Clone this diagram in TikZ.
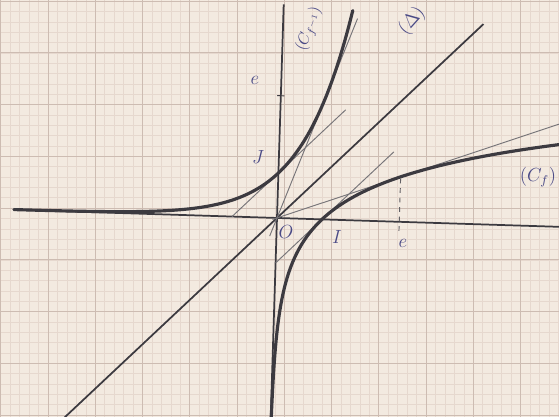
\documentclass[tikz,border=0pt]{standalone}
\usepackage{tikz}
\usetikzlibrary{calc}
\definecolor{paper}{HTML}{F3EAE0}
\definecolor{gridminor}{HTML}{E6D8CE}
\definecolor{gridmajor}{HTML}{CDBCB2}
\definecolor{pencil}{HTML}{3C3A40}
\definecolor{ink}{HTML}{4A4A86}
\newcommand{\econst}{2.71828}
\tikzset{
	curveline/.style={
			pencil,
			line width=2pt,
			line cap=round
		},
	axisline/.style={
			pencil,
			line width=1.1pt
		},
	tangentline/.style={
			pencil!70,
			line width=0.6pt
		},
	inklabel/.style={
			text=ink,
			font=\large,
			inner sep=1pt
		}
}

\begin{document}
\begin{tikzpicture}

  \useasboundingbox (-6.156,-4.422) rectangle (6.267,4.844);
  \fill[paper] (-6.156,-4.422) rectangle (6.267,4.844);
  \clip (-6.156,-4.422) rectangle (6.267,4.844);

  % graph paper
  \draw[gridminor, line width=0.3pt, xstep=0.21, ystep=0.23, shift={(0.16,0.22)}] (-6.6,-5) grid (6.6,5);
  \draw[gridmajor, line width=0.5pt, xstep=1.05, ystep=1.15, shift={(0.16,0.22)}] (-6.6,-5) grid (6.6,5);

  \begin{scope}[rotate=-1.8]
    \coordinate (O) at (0,0);
    \coordinate (I) at (1,0);
    \coordinate (J) at (0,1);
    \coordinate (E) at (\econst,0);
    \coordinate (Ef) at (\econst,1);

    % axes and (Delta)
    \draw[axisline] (-5.85,0) -- (6.5,0);
    \draw[axisline] (0,-4.6) -- (0,4.75);
    \draw[axisline] (-4.6,-4.6) -- (4.45,4.45);

    % tangents
    \draw[tangentline] (-1,0) -- (1.45,2.45);
    \draw[tangentline] (-0.15,{-0.15*\econst}) -- (1.65,{1.65*\econst});
    \draw[tangentline] (0,-1) -- (2.55,1.55);
    \draw[tangentline] (-0.1,{-0.1/\econst}) -- (6.4,{6.4/\econst});
    \draw[pencil!80, dashed, line width=0.6pt] ($(E)+(0,-0.2)$) -- (Ef);
    \draw[pencil, line width=0.6pt] (-0.08,\econst) -- (0.08,\econst);

    % curves
    \draw[curveline, domain=-5.85:1.54, samples=90, smooth] plot (\x,{exp(\x)});
    \draw[curveline, domain=-4.6:1.85, samples=90, smooth] plot ({exp(\x)},\x);
  \end{scope}

  \node[inklabel] (lO) at (0.2,-0.32) {$O$};
  \node[inklabel] (lI) at (1.33,-0.42) {$I$};
  \node[inklabel] (le) at (2.8,-0.56) {$e$};
  \node[inklabel] (lJ) at (-0.42,1.36) {$J$};
  \node[inklabel] (ley) at (-0.49,3.05) {$e$};
  \node[inklabel, rotate=48] (lD) at (3.0,4.38) {$(\Delta)$};
  \node[inklabel, rotate=70, font=\normalsize] (lCi) at (0.72,4.2) {$(C_{f^{-1}})$};
  \node[inklabel] (lC) at (5.8,0.91) {$(C_f)$};

\end{tikzpicture}
\end{document}
